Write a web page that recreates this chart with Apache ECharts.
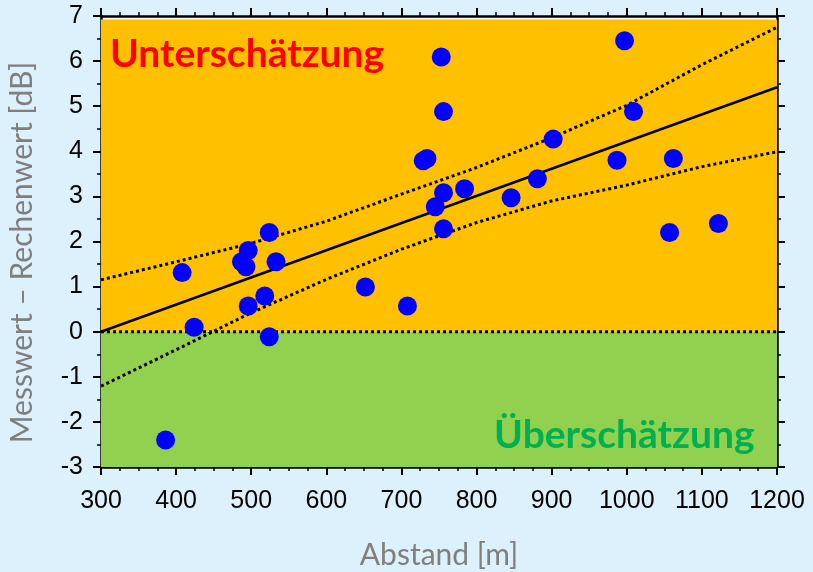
<!DOCTYPE html>
<html>
<head>
<meta charset="utf-8">
<script src="https://cdn.jsdelivr.net/npm/echarts@6/dist/echarts.min.js"></script>
<style>
  html, body { margin: 0; padding: 0; background: #DCF1FC; }
  #chart { width: 813px; height: 572px; }
</style>
</head>
<body>
<div id="chart"></div>
<script>
// Measured deviation vs. distance
const distance = [386, 408, 424, 487, 493, 496, 496, 518, 524, 524, 533, 652, 708, 729, 734,
                  745, 753, 756, 756, 756, 784, 846, 881, 902, 987, 997, 1009, 1057, 1062, 1122];
const deviation = [-2.40, 1.31, 0.10, 1.55, 1.44, 1.80, 0.57, 0.79, 2.20, -0.11, 1.55, 0.99, 0.57, 3.79, 3.84,
                   2.77, 6.09, 4.88, 3.08, 2.28, 3.17, 2.97, 3.39, 4.27, 3.80, 6.45, 4.88, 2.20, 3.84, 2.40];

// Regression line and its confidence band
const fitX = [300, 1200];
const fitY = [0, 5.42];
const bandX = [300, 400, 500, 600, 700, 800, 900, 1000, 1100, 1200];
const bandUpper = [1.15, 1.55, 1.96, 2.45, 3.05, 3.64, 4.30, 5.02, 5.92, 6.75];
const bandLower = [-1.21, -0.40, 0.42, 1.16, 1.83, 2.42, 2.90, 3.25, 3.66, 3.99];

// Axis ranges
const xMin = 300, xMax = 1200, xStep = 100;
const yMin = -3, yMax = 7, yStep = 1;

const zip = (a, b) => a.map((v, i) => [v, b[i]]);

const chart = echarts.init(document.getElementById('chart'), null, { renderer: 'canvas' });

const axisLine = { show: true, onZero: false, lineStyle: { color: '#000', width: 2.5 } };
const tickLabelFont = { fontFamily: 'Liberation Sans', fontSize: 25, color: '#000' };
const titleFont = { fontFamily: 'Lato', fontSize: 30, color: '#7F7F7F' };
const dotted = { color: '#000', width: 3, type: [3, 3] };

const xBase = {
  type: 'value', min: xMin, max: xMax, interval: xStep,
  axisLine: axisLine,
  axisTick: { show: true, length: 8, lineStyle: { color: '#000', width: 2 } },
  minorTick: { show: true, splitNumber: 4, length: 4, lineStyle: { color: '#000', width: 1.5 } },
  splitLine: { show: false }, minorSplitLine: { show: false }
};
const yBase = {
  type: 'value', min: yMin, max: yMax, interval: yStep,
  axisLine: axisLine,
  axisTick: { show: true, length: 8, lineStyle: { color: '#000', width: 2 } },
  minorTick: { show: true, splitNumber: 2, length: 4, lineStyle: { color: '#000', width: 1.5 } },
  splitLine: { show: false }, minorSplitLine: { show: false }
};

chart.setOption({
  animation: false,
  backgroundColor: '#DCF1FC',
  grid: {
    left: 101, right: 36, top: 16, bottom: 105,
    containLabel: false, outerBoundsMode: 'none',
    show: true, backgroundColor: '#fff', borderWidth: 0
  },
  xAxis: [
    Object.assign({}, xBase, {
      position: 'bottom',
      axisLabel: Object.assign({ margin: 22, formatter: v => String(v) }, tickLabelFont),
      name: 'Abstand [m]', nameLocation: 'middle', nameGap: 73, nameTextStyle: titleFont
    }),
    Object.assign({}, xBase, { position: 'top', axisLabel: { show: false } })
  ],
  yAxis: [
    Object.assign({}, yBase, {
      position: 'left',
      axisLabel: Object.assign({ margin: 18, formatter: v => String(v) }, tickLabelFont),
      name: 'Messwert – Rechenwert [dB]', nameLocation: 'middle', nameGap: 64, nameRotate: 90,
      nameTextStyle: Object.assign({ padding: [0, 22, 0, 0] }, titleFont)
    }),
    Object.assign({}, yBase, { position: 'right', axisLabel: { show: false } })
  ],
  series: [
    {
      // coloured regions above and below zero
      type: 'line', data: [], z: 1, silent: true,
      markArea: {
        silent: true,
        data: [
          [{ yAxis: 0, itemStyle: { color: '#FFC000' } }, { yAxis: 6.92 }],
          [{ yAxis: yMin, itemStyle: { color: '#92D050' } }, { yAxis: 0 }]
        ]
      }
    },
    {
      type: 'line', data: zip(fitX, [0, 0]), z: 2, symbol: 'none', lineStyle: dotted
    },
    {
      type: 'line', data: zip(bandX, bandUpper), z: 3, symbol: 'none', lineStyle: dotted
    },
    {
      type: 'line', data: zip(bandX, bandLower), z: 3, symbol: 'none', lineStyle: dotted
    },
    {
      type: 'line', data: zip(fitX, fitY), z: 3, symbol: 'none',
      lineStyle: { color: '#000', width: 2.5 }
    },
    {
      type: 'scatter', data: zip(distance, deviation), z: 5,
      symbol: 'circle', symbolSize: 19,
      itemStyle: { color: '#0000FF', opacity: 1 }
    }
  ],
  graphic: [
    {
      type: 'text', left: 110, top: 35, z: 10,
      style: { text: 'Unterschätzung', fill: '#FF0000', font: 'bold 39px Lato' }
    },
    {
      type: 'text', left: 494, top: 416, z: 10,
      style: { text: 'Überschätzung', fill: '#00B050', font: 'bold 39px Lato' }
    }
  ]
});
</script>
</body>
</html>
